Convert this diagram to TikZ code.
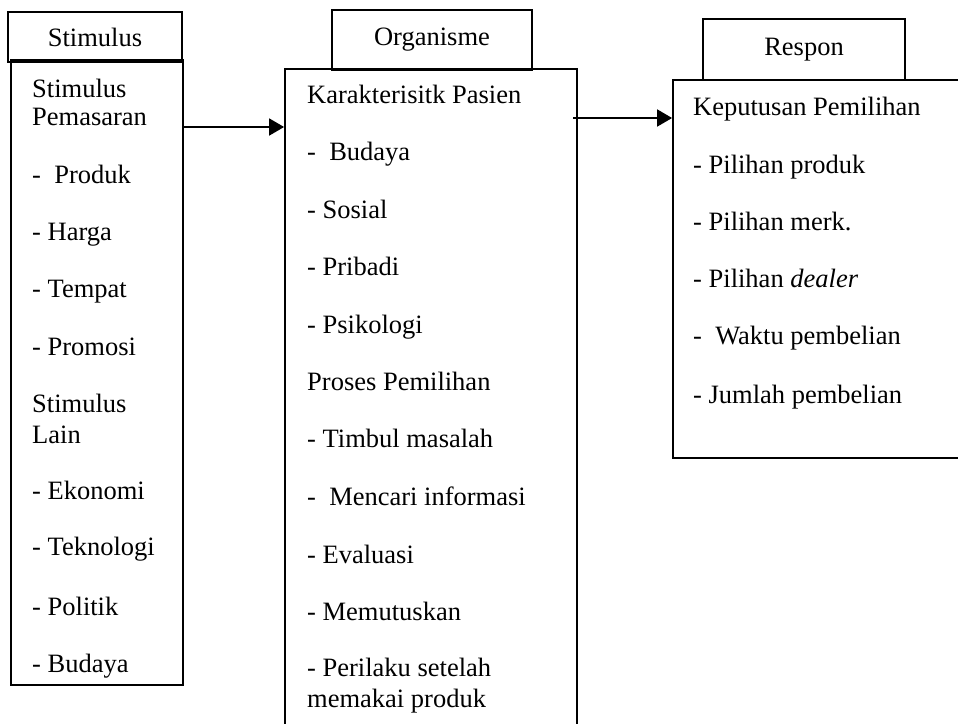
\documentclass[tikz,border=0pt]{standalone}
\usepackage{fontspec}
\setmainfont{Liberation Serif}
\usetikzlibrary{arrows.meta}

\tikzset{
  headbox/.style={draw, line width=1.8pt, inner sep=0pt},
  bodybox/.style={draw, line width=1.8pt, inner sep=0pt},
  item/.style={anchor=base west, inner sep=0pt, font=\fontsize{26.5pt}{30pt}\selectfont},
  headtext/.style={font=\fontsize{26.5pt}{30pt}\selectfont},
  flow/.style={line width=1.8pt, -{Triangle[length=15pt,width=17pt]}}
}

\begin{document}
\begin{tikzpicture}[x=1pt, y=-1pt]
  \clip (0,0) rectangle (958,723);

  % kolom kiri
  \node[headbox, headtext, minimum width=174pt, minimum height=50pt] (stimHead) at (95,37) {Stimulus};
  \node[bodybox, minimum width=172pt, minimum height=625pt] (stimBody) at (97,372.5) {};
  \foreach \yy/\txt [count=\i] in {97/Stimulus, 125/Pemasaran, 183/-~ Produk, 240/- Harga,
      297/- Tempat, 355/- Promosi, 412/Stimulus, 443/Lain, 499/- Ekonomi,
      555/- Teknologi, 615/- Politik, 672/- Budaya}
    \node[item] (stim-\i) at (32,\yy) {\txt};

  % kolom tengah
  \node[headbox, headtext, minimum width=200pt, minimum height=60pt] (orgHead) at (432,40) {Organisme};
  \node[bodybox, minimum width=292pt, minimum height=657pt] (orgBody) at (431,397.5) {};
  \foreach \yy/\txt [count=\i] in {103/Karakterisitk Pasien, 160/-~ Budaya, 218/- Sosial,
      275/- Pribadi, 333/- Psikologi, 390/Proses Pemilihan, 447/- Timbul masalah,
      505/-~ Mencari informasi, 563/- Evaluasi, 620/- Memutuskan,
      676/- Perilaku setelah, 707/memakai produk}
    \node[item] (org-\i) at (307,\yy) {\txt};

  % kolom kanan
  \node[headbox, headtext, minimum width=202pt, minimum height=61pt] (respHead) at (804,49.5) {Respon};
  \node[bodybox, minimum width=317pt, minimum height=378pt] (respBody) at (831.5,269) {};
  \foreach \yy/\txt [count=\i] in {115/Keputusan Pemilihan, 173/- Pilihan produk,
      230/- Pilihan merk., 287/- Pilihan \textit{dealer}, 344/-~ Waktu pembelian,
      403/- Jumlah pembelian}
    \node[item] (resp-\i) at (693,\yy) {\txt};

  \coordinate (a1) at (0,127);
  \coordinate (a2) at (573,118);
  \draw[flow] (stimBody.east |- a1) -- (orgBody.west |- a1);
  \draw[flow] (a2) -- (respBody.west |- a2);
\end{tikzpicture}
\end{document}
